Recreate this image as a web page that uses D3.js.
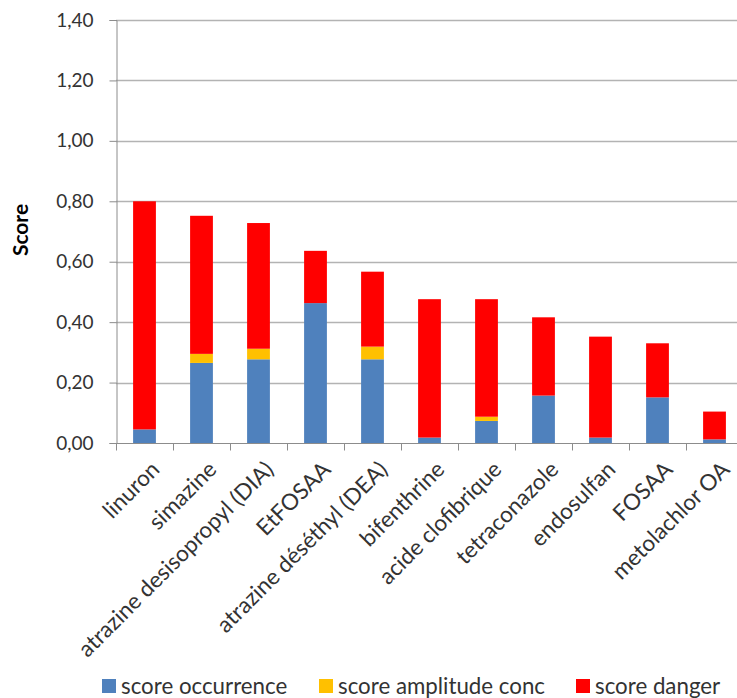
<!DOCTYPE html>
<html>
<head>
<meta charset="utf-8">
<script src="https://cdn.jsdelivr.net/npm/d3@7"></script>
<style>
  html, body { margin: 0; padding: 0; background: #fff; }
  svg { display: block; font-family: Lato, "Open Sans", sans-serif; }
</style>
</head>
<body>
<svg id="chart" width="737" height="698"></svg>
<script>
// Substances, ordered by total score
const categories = [
  "linuron", "simazine", "atrazine desisopropyl (DIA)", "EtFOSAA",
  "atrazine déséthyl (DEA)", "bifenthrine", "acide clofibrique",
  "tetraconazole", "endosulfan", "FOSAA", "metolachlor OA"
];
const scoreOccurrence = [0.045, 0.265, 0.277, 0.463, 0.277, 0.018, 0.073, 0.157, 0.018, 0.151, 0.012];
const scoreAmplitude  = [0.000, 0.030, 0.035, 0.000, 0.042, 0.000, 0.014, 0.000, 0.000, 0.000, 0.000];
const scoreDanger     = [0.755, 0.457, 0.416, 0.173, 0.248, 0.458, 0.389, 0.259, 0.334, 0.179, 0.092];
const seriesNames  = ["score occurrence", "score amplitude conc", "score danger"];
const seriesColors = ["#4F81BD", "#FFC000", "#FF0000"];
const yTicks = [0, 0.2, 0.4, 0.6, 0.8, 1.0, 1.2, 1.4];
const yTitle = "Score";

const svg = d3.select("#chart");
const margin = { left: 116, right: -6, top: 20, bottom: 255 };
const W = 737, H = 698;
const plotBottom = H - margin.bottom; // 443

const rows = categories.map((c, i) => ({
  cat: c,
  s0: scoreOccurrence[i],
  s1: scoreAmplitude[i],
  s2: scoreDanger[i]
}));
const stack = d3.stack().keys(["s0", "s1", "s2"]);
const layers = stack(rows);

const x = d3.scaleBand()
  .domain(categories)
  .range([margin.left, W - margin.right])
  .paddingInner(0.6)
  .paddingOuter(0.3);
const band = (W - margin.right - margin.left) / categories.length;
const y = d3.scaleLinear().domain([0, 1.4]).range([plotBottom, margin.top]);

const fmt = v => d3.format(".2f")(v).replace(".", ",");

// horizontal gridlines
svg.append("g")
  .selectAll("line")
  .data(yTicks.slice(1))
  .join("line")
  .attr("x1", margin.left).attr("x2", W)
  .attr("y1", d => Math.round(y(d)) + 0.5).attr("y2", d => Math.round(y(d)) + 0.5)
  .attr("stroke", "#B3B3B3").attr("stroke-width", 1.3);

// y axis
const yAxis = d3.axisLeft(y).tickValues(yTicks).tickFormat(fmt).tickSize(7).tickPadding(16);
const gy = svg.append("g").attr("transform", `translate(${margin.left + 0.5},0)`).call(yAxis);
gy.select(".domain").attr("stroke", "#8C8C8C");
gy.selectAll(".tick line").attr("stroke", "#8C8C8C");
gy.selectAll(".tick text").attr("fill", "#333").style("font-size", "19px")
  .style("font-family", "Lato, sans-serif");

// stacked bars
svg.append("g")
  .selectAll("g")
  .data(layers)
  .join("g")
  .attr("fill", (d, i) => seriesColors[i])
  .selectAll("rect")
  .data(d => d)
  .join("rect")
  .attr("x", d => x(d.data.cat))
  .attr("width", x.bandwidth())
  .attr("y", d => y(d[1]))
  .attr("height", d => Math.max(0, y(d[0]) - y(d[1])));

// x axis
const gx = svg.append("g").attr("transform", `translate(0,${plotBottom + 0.5})`);
gx.append("line").attr("x1", margin.left).attr("x2", W)
  .attr("stroke", "#8C8C8C");
gx.selectAll("line.tk")
  .data(d3.range(categories.length + 1))
  .join("line")
  .attr("class", "tk")
  .attr("x1", i => margin.left + i * band + 0.5)
  .attr("x2", i => margin.left + i * band + 0.5)
  .attr("y1", 0).attr("y2", 7)
  .attr("stroke", "#8C8C8C");
gx.selectAll("text")
  .data(categories)
  .join("text")
  .attr("transform", d => `translate(${x(d) + x.bandwidth() / 2 + 5},${16}) rotate(-45)`)
  .attr("text-anchor", "end")
  .attr("dy", "0.72em")
  .attr("fill", "#333")
  .style("font-size", "22.5px")
  .text(d => d);

// y title
svg.append("text")
  .attr("transform", `translate(28,230) rotate(-90)`)
  .attr("text-anchor", "middle")
  .style("font-size", "21px")
  .style("font-weight", "bold")
  .attr("fill", "#000")
  .text(yTitle);

// legend
const legendX = [102, 319, 576];
const lg = svg.append("g").attr("transform", "translate(0,686)");
seriesNames.forEach((name, i) => {
  lg.append("rect").attr("x", legendX[i]).attr("y", -7).attr("width", 14).attr("height", 14)
    .attr("fill", seriesColors[i]);
  lg.append("text").attr("x", legendX[i] + 19).attr("y", 0).attr("dy", "0.35em")
    .attr("fill", "#333").style("font-size", "22.3px").text(name);
});
</script>
</body>
</html>
